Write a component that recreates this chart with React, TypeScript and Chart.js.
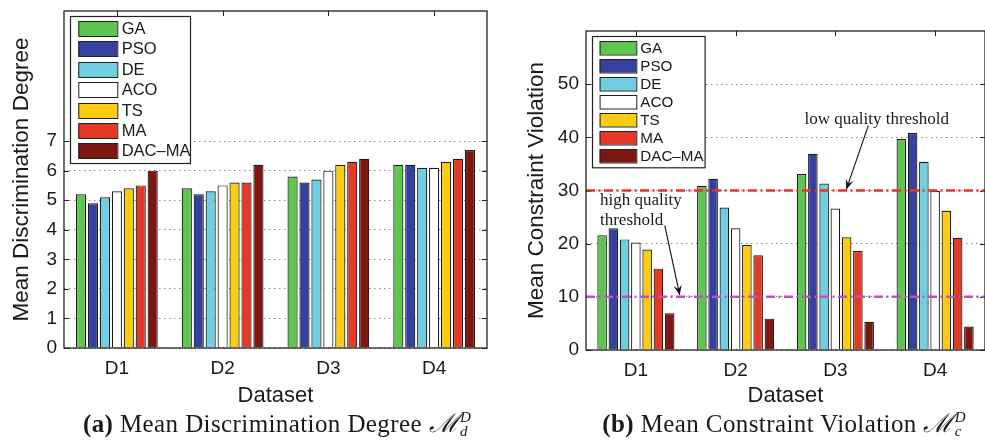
import React, { useEffect, useRef } from "react";
import { Chart, registerables } from "chart.js";

Chart.register(...registerables);

// ---------------- DATA ----------------
const categories = ["D1", "D2", "D3", "D4"];
const methods = ["GA", "PSO", "DE", "ACO", "TS", "MA", "DAC\u2013MA"];
const methodColors = ["#5ec64e", "#35409f", "#6fcfe0", "#ffffff", "#fdcb0f", "#e33a26", "#7e1612"];

// (a) Mean Discrimination Degree
const discGA = [5.2, 5.4, 5.8, 6.2];
const discPSO = [4.9, 5.2, 5.6, 6.2];
const discDE = [5.1, 5.3, 5.7, 6.1];
const discACO = [5.3, 5.5, 6.0, 6.1];
const discTS = [5.4, 5.6, 6.2, 6.3];
const discMA = [5.5, 5.6, 6.3, 6.4];
const discDACMA = [6.0, 6.2, 6.4, 6.7];
const discTicks = [0, 1, 2, 3, 4, 5, 6, 7];
const discMax = 11.4;

// (b) Mean Constraint Violation
const violGA = [21.6, 30.9, 33.1, 39.7];
const violPSO = [22.9, 32.2, 36.9, 40.8];
const violDE = [20.8, 26.8, 31.3, 35.4];
const violACO = [20.2, 22.9, 26.6, 29.9];
const violTS = [18.9, 19.8, 21.2, 26.2];
const violMA = [15.3, 17.8, 18.6, 21.1];
const violDACMA = [6.9, 5.9, 5.3, 4.4];
const violTicks = [0, 10, 20, 30, 40, 50];
const violMax = 60;

const lowQualityThreshold = 30;
const highQualityThreshold = 10;

// ---------------- STYLE ----------------
const SANS = "'Liberation Sans', Arial, Helvetica, sans-serif";
const SERIF = "'Liberation Serif', 'Times New Roman', serif";
const INK = "#1a1a1a";

type LegendCfg = {
  dx: number; dy: number; w: number; h: number;
  swX: number; swY: number; swW: number; swH: number;
  pitch: number; textX: number; font: number;
};

type Panel = {
  canvasLeft: number; canvasWidth: number; canvasHeight: number;
  pad: { left: number; top: number; right: number; bottom: number };
  yAxisWidth: number; xAxisHeight: number;
  yTitle: string; yMax: number; yTicks: number[];
  series: number[][];
  legend: LegendCfg;
  thresholds?: { value: number; color: string }[];
  notes?: { text: string; x: number; y: number }[];
  arrows?: { from: [number, number]; to: [number, number] }[];
};

const panelA: Panel = {
  canvasLeft: 0, canvasWidth: 495, canvasHeight: 413,
  pad: { left: 4, top: 11, right: 8, bottom: 0 },
  yAxisWidth: 60, xAxisHeight: 65,
  yTitle: "Mean Discrimination Degree", yMax: discMax, yTicks: discTicks,
  series: [discGA, discPSO, discDE, discACO, discTS, discMA, discDACMA],
  legend: { dx: 6, dy: 5, w: 120, h: 147, swX: 8.3, swY: 5, swW: 39, swH: 15, pitch: 20.4, textX: 51.7, font: 16.5 },
};

const panelB: Panel = {
  canvasLeft: 495, canvasWidth: 490, canvasHeight: 413,
  pad: { left: 24, top: 31, right: 0, bottom: 0 },
  yAxisWidth: 67, xAxisHeight: 63,
  yTitle: "Mean Constraint Violation", yMax: violMax, yTicks: violTicks,
  series: [violGA, violPSO, violDE, violACO, violTS, violMA, violDACMA],
  legend: { dx: 5.7, dy: 5, w: 112.6, h: 131.3, swX: 7.6, swY: 4.7, swW: 36.7, swH: 13.5, pitch: 18.1, textX: 48.3, font: 15.2 },
  thresholds: [
    { value: lowQualityThreshold, color: "#e8322a" },
    { value: highQualityThreshold, color: "#c24fc4" },
  ],
  notes: [
    { text: "low quality threshold", x: 1.69, y: 42.6 },
    { text: "high quality", x: -0.36, y: 27.2 },
    { text: "threshold", x: -0.36, y: 23.6 },
  ],
  arrows: [
    { from: [2.33, 42.2], to: [2.11, 30.2] },
    { from: [0.29, 23.4], to: [0.44, 10.3] },
  ],
};

function decorPlugin(panel: Panel) {
  return {
    id: "decor",
    beforeDatasetsDraw(chart: any) {
      const { ctx, chartArea: ca, scales } = chart;
      const y = scales.y, x = scales.x;
      ctx.save();
      ctx.strokeStyle = "#222";
      ctx.lineWidth = 1;
      ctx.beginPath();
      panel.yTicks.forEach((v) => {
        const py = Math.round(y.getPixelForValue(v)) + 0.5;
        ctx.moveTo(ca.left, py); ctx.lineTo(ca.left + 5, py);
        ctx.moveTo(ca.right, py); ctx.lineTo(ca.right - 5, py);
      });
      categories.forEach((_, i) => {
        const px = Math.round(x.getPixelForValue(i)) + 0.5;
        ctx.moveTo(px, ca.top); ctx.lineTo(px, ca.top + 5);
        ctx.moveTo(px, ca.bottom); ctx.lineTo(px, ca.bottom - 5);
      });
      ctx.stroke();
      ctx.restore();
    },
    afterDatasetsDraw(chart: any) {
      const { ctx, chartArea: ca, scales } = chart;
      const y = scales.y, x = scales.x;
      ctx.save();
      // thresholds
      (panel.thresholds || []).forEach((t) => {
        const py = y.getPixelForValue(t.value);
        ctx.strokeStyle = t.color;
        ctx.lineWidth = 2.5;
        ctx.setLineDash([9, 3.5, 2, 3.5]);
        ctx.beginPath();
        ctx.moveTo(ca.left, py);
        ctx.lineTo(ca.right, py);
        ctx.stroke();
      });
      ctx.setLineDash([]);
      // box
      ctx.strokeStyle = "#222";
      ctx.lineWidth = 1.3;
      ctx.strokeRect(ca.left, ca.top, ca.right - ca.left, ca.bottom - ca.top);
      // notes
      ctx.fillStyle = INK;
      ctx.font = `17px ${SERIF}`;
      ctx.textAlign = "left";
      ctx.textBaseline = "alphabetic";
      (panel.notes || []).forEach((n) => {
        ctx.fillText(n.text, x.getPixelForValue(n.x), y.getPixelForValue(n.y));
      });
      // arrows
      ctx.strokeStyle = "#111";
      ctx.lineWidth = 1.1;
      (panel.arrows || []).forEach((a) => {
        const x1 = x.getPixelForValue(a.from[0]), y1 = y.getPixelForValue(a.from[1]);
        const x2 = x.getPixelForValue(a.to[0]), y2 = y.getPixelForValue(a.to[1]);
        ctx.beginPath();
        ctx.moveTo(x1, y1);
        ctx.lineTo(x2, y2);
        ctx.stroke();
        const ang = Math.atan2(y2 - y1, x2 - x1);
        const L = 11, w = 0.38;
        ctx.fillStyle = "#111";
        ctx.beginPath();
        ctx.moveTo(x2, y2);
        ctx.lineTo(x2 - L * Math.cos(ang - w), y2 - L * Math.sin(ang - w));
        ctx.lineTo(x2 - 0.55 * L * Math.cos(ang), y2 - 0.55 * L * Math.sin(ang));
        ctx.lineTo(x2 - L * Math.cos(ang + w), y2 - L * Math.sin(ang + w));
        ctx.closePath();
        ctx.fill();
      });
      ctx.restore();
    },
    afterDraw(chart: any) {
      const { ctx, chartArea: ca } = chart;
      const L = panel.legend;
      const bx = Math.round(ca.left + L.dx), by = Math.round(ca.top + L.dy);
      ctx.save();
      ctx.fillStyle = "#fff";
      ctx.fillRect(bx, by, L.w, L.h);
      ctx.strokeStyle = "#222";
      ctx.lineWidth = 1.2;
      ctx.strokeRect(bx + 0.5, by + 0.5, L.w, L.h);
      ctx.font = `${L.font}px ${SANS}`;
      ctx.textBaseline = "middle";
      ctx.textAlign = "left";
      chart.data.datasets.forEach((ds: any, i: number) => {
        const sy = Math.round(by + L.swY + i * L.pitch);
        ctx.fillStyle = ds.backgroundColor;
        ctx.fillRect(bx + L.swX, sy, L.swW, L.swH);
        ctx.lineWidth = 1;
        ctx.strokeStyle = "#222";
        ctx.strokeRect(bx + L.swX + 0.5, sy + 0.5, L.swW, L.swH);
        ctx.fillStyle = INK;
        ctx.fillText(ds.label, bx + L.textX, sy + L.swH / 2 + 1);
      });
      ctx.restore();
    },
  };
}

function PanelChart({ panel }: { panel: Panel }) {
  const ref = useRef<HTMLCanvasElement | null>(null);
  useEffect(() => {
    if (!ref.current) return;
    const chart = new Chart(ref.current, {
      type: "bar",
      data: {
        labels: categories,
        datasets: methods.map((m, i) => ({
          label: m,
          data: panel.series[i],
          backgroundColor: methodColors[i],
          borderColor: "#1c1c1c",
          borderWidth: 1.2,
          categoryPercentage: 0.79,
          barPercentage: 0.85,
        })),
      },
      options: {
        animation: false,
        responsive: false,
        maintainAspectRatio: false,
        devicePixelRatio: 1,
        layout: { padding: panel.pad },
        plugins: { legend: { display: false }, tooltip: { enabled: false } },
        scales: {
          x: {
            type: "category",
            offset: true,
            grid: { display: false, drawTicks: false },
            border: { display: false },
            ticks: { font: { family: SANS, size: 19 }, color: INK, padding: 9, maxRotation: 0 },
            title: {
              display: true, text: "Dataset", color: INK,
              font: { family: SANS, size: 22 }, padding: { top: 4, bottom: 4 },
            },
            afterFit: (s: any) => {
              s.height = panel.xAxisHeight;
              s.paddingLeft = 0; s.paddingRight = 0;
            },
          },
          y: {
            type: "linear",
            min: 0,
            max: panel.yMax,
            afterBuildTicks: (s: any) => { s.ticks = panel.yTicks.map((v) => ({ value: v })); },
            grid: { color: "#8a8a8a", lineWidth: 1, drawTicks: false },
            border: { display: false, dash: [1.5, 3.5] },
            ticks: { font: { family: SANS, size: 19 }, color: INK, padding: 7 },
            title: {
              display: true, text: panel.yTitle, color: INK,
              font: { family: SANS, size: 22.5 }, padding: { top: 4, bottom: 4 },
            },
            afterFit: (s: any) => {
              s.width = panel.yAxisWidth;
              s.paddingTop = 0; s.paddingBottom = 0;
            },
          },
        },
      } as any,
      plugins: [decorPlugin(panel) as any],
    });
    return () => chart.destroy();
  }, [panel]);
  return (
    <canvas
      ref={ref}
      width={panel.canvasWidth}
      height={panel.canvasHeight}
      style={{
        position: "absolute", left: panel.canvasLeft, top: 0,
        width: panel.canvasWidth, height: panel.canvasHeight,
      }}
    />
  );
}

function Caption({ center, tag, text, sub }: { center: number; tag: string; text: string; sub: string }) {
  return (
    <div
      style={{
        position: "absolute", left: center, top: 408, transform: "translateX(-50%)",
        whiteSpace: "nowrap", fontFamily: SERIF, fontSize: 25, lineHeight: "30px",
        color: INK, letterSpacing: 0.4,
      }}
    >
      <b>{tag}</b> {text}{" "}
      <span style={{ fontFamily: "'DejaVu Serif', serif", fontStyle: "italic", fontSize: 26 }}>{"\u2133"}</span>
      <span style={{ position: "relative", display: "inline-block", width: 14 }}>
        <span style={{ position: "absolute", left: 1, top: -22, fontSize: 15, lineHeight: 1, fontStyle: "italic" }}>D</span>
        <span style={{ position: "absolute", left: 1, top: -8, fontSize: 15, lineHeight: 1, fontStyle: "italic" }}>{sub}</span>
      </span>
    </div>
  );
}

export default function App() {
  return (
    <div style={{ position: "absolute", left: 0, top: 0, width: 985, height: 442, background: "#fff", overflow: "hidden" }}>
      <PanelChart panel={panelA} />
      <PanelChart panel={panelB} />
      <Caption center={278} tag="(a)" text="Mean Discrimination Degree" sub="d" />
      <Caption center={785} tag="(b)" text="Mean Constraint Violation" sub="c" />
    </div>
  );
}
